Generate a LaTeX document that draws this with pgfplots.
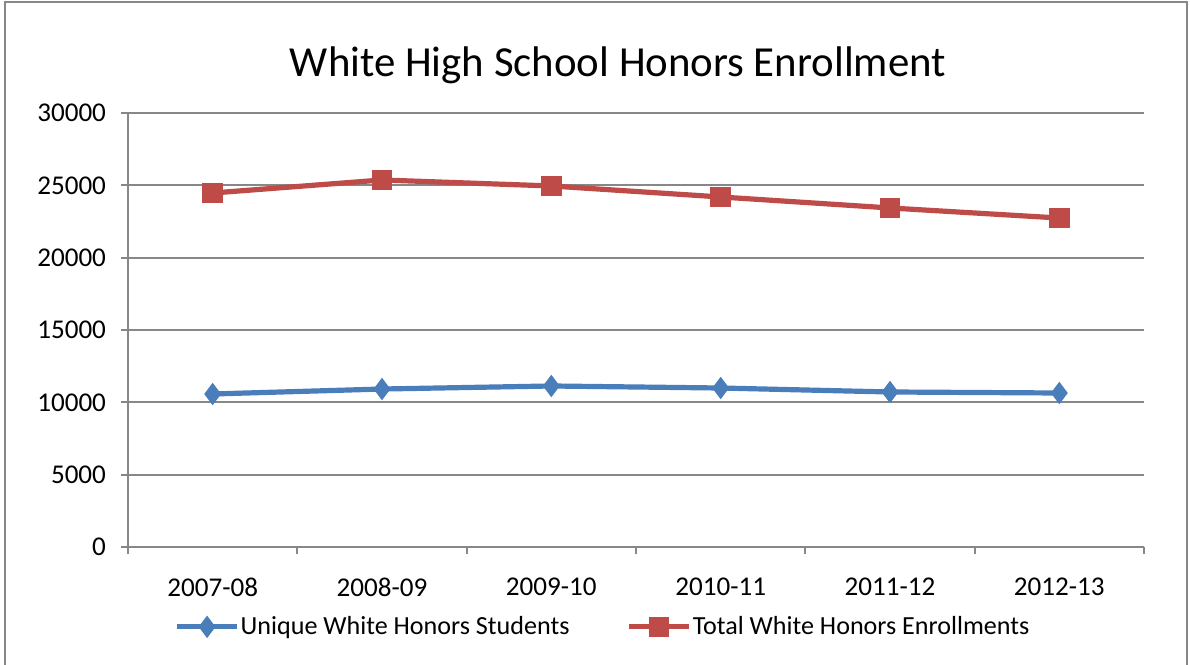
\documentclass[border=0pt]{standalone}
\usepackage{fontspec}
\setmainfont{Carlito}
\usepackage{pgfplots}
\pgfplotsset{compat=1.18}
\definecolor{exblue}{HTML}{4A7EBB}
\definecolor{exred}{HTML}{BE4B48}
\definecolor{exgrid}{HTML}{878787}

\begin{document}
\begin{tikzpicture}
  % page frame; 1 px of the reference = 0.5bp
  \useasboundingbox (0bp,0bp) rectangle (595bp,332.5bp);
  \draw[exgrid, line width=1bp] (2.5bp,-5bp) -- (2.5bp,331.5bp) -- (593.5bp,331.5bp) -- (593.5bp,-5bp);
  \node[font=\fontsize{21.5}{26}\selectfont] at (309bp,300bp) {White High School Honors Enrollment};

  \begin{axis}[
      at={(64bp,59bp)}, anchor=south west,
      scale only axis,
      width=508bp, height=217bp,
      xmin=-0.5, xmax=5.5,
      ymin=0, ymax=30000,
      ytick={0,5000,...,30000},
      xtick={0,...,5},
      xticklabels={2007-08,2008-09,2009-10,2010-11,2011-12,2012-13},
      minor xtick={-0.5,0.5,...,5.5},
      major x tick style={draw=none},
      minor x tick style={exgrid, line width=0.9bp},
      y tick style={exgrid, line width=0.9bp},
      tick align=outside,
      major tick length=3.5bp, minor tick length=3.5bp,
      axis x line*=bottom, axis y line*=left,
      axis line style={exgrid, line width=0.9bp, -},
      ymajorgrids,
      grid style={exgrid, line width=0.9bp},
      scaled y ticks=false,
      /pgf/number format/assume math mode=true,
      yticklabel={\pgfmathprintnumber[fixed,1000 sep={}]{\tick}},
      tick label style={font=\fontsize{13.6}{16}\selectfont},
      xticklabel style={yshift=-8.5bp},
      yticklabel style={xshift=-4bp},
      legend style={at={(0.467,-0.184)}, anchor=center, draw=none,
        legend columns=2, font=\fontsize{13.1}{16}\selectfont,
        /tikz/every even column/.append style={column sep=28bp},
        nodes={inner xsep=0.5bp}},
      legend image code/.code={
        \draw[#1] (0bp,0bp) -- (30bp,0bp);
        \draw[#1, mark repeat=2, mark phase=2] plot coordinates {(0bp,0bp) (15bp,0bp) (30bp,0bp)};
      },
    ]
    \addplot[exblue, line width=2.6bp, mark=diamond*, mark size=5.2bp,
      mark options={solid, fill=exblue, line width=0.5bp}]
      coordinates {(0,10576) (1,10920) (2,11130) (3,10990) (4,10715) (5,10645)};
    \addlegendentry{Unique White Honors Students}
    \addplot[exred, line width=2.6bp, mark=square*, mark size=4.9bp,
      mark options={solid, fill=exred, line width=0.5bp}]
      coordinates {(0,24470) (1,25370) (2,24955) (3,24195) (4,23435) (5,22740)};
    \addlegendentry{Total White Honors Enrollments}
  \end{axis}
\end{tikzpicture}
\end{document}
